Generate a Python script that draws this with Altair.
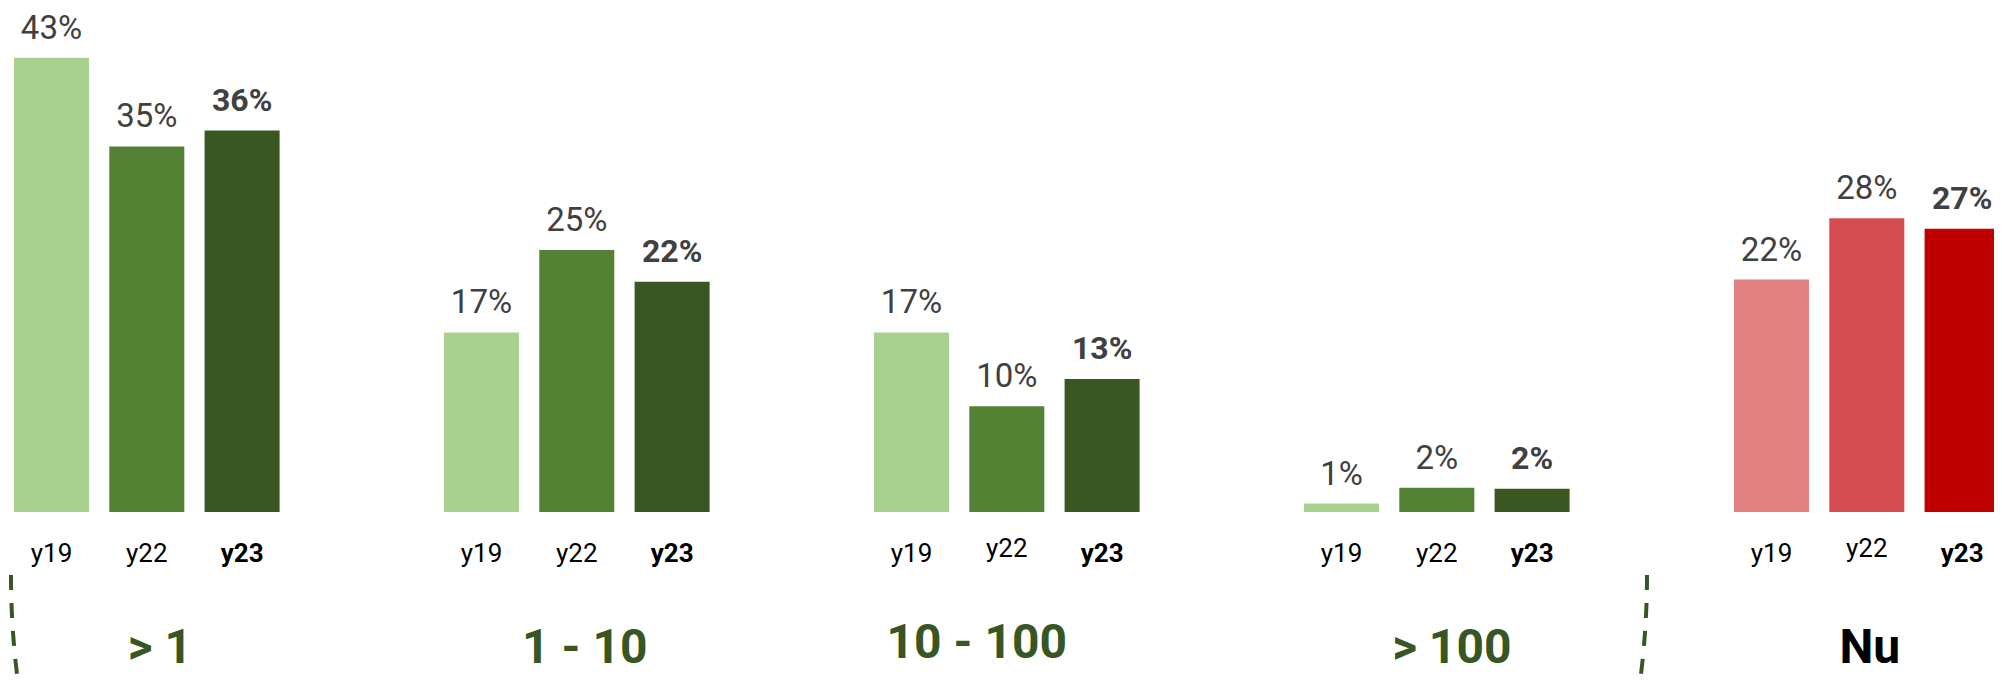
import altair as alt
import pandas as pd

# ---------------- data ----------------
GROUPS = ["> 1", "1 - 10", "10 - 100", "> 100", "Nu"]
YEARS = ["y19", "y22", "y23"]
V_Y19 = [43.0, 17.0, 17.0, 0.8, 22.0]
V_Y22 = [34.6, 24.8, 10.0, 2.3, 27.8]
V_Y23 = [36.1, 21.8, 12.6, 2.2, 26.8]

# ---------------- style / layout ----------------
FONT = "Roboto"
GREEN_TXT = "#375623"
SHADE_DOMAIN = ["green-y19", "green-y22", "green-y23", "red-y19", "red-y22", "red-y23"]
SHADE_RANGE = ["#A9D18E", "#548235", "#385723", "#E08080", "#D44C4F", "#C00000"]

W, H = 1986, 672
BASE_Y = 504          # plot y of 0 %
TOP_Y = 49.7          # plot y of 43 %
X0 = -76.2            # start of first group band
GROUP_STEP = 430
# nudges for the group titles (dx, dy)
GROUP_NUDGE = [(13, 0), (8, 0), (-30, -5), (15, 0), (3, 0)]
RAISED = ["10 - 100", "Nu"]   # groups whose y22 tick label sits a little higher

rows = []
for g, grp in enumerate(GROUPS):
    for yr, vals in zip(YEARS, [V_Y19, V_Y22, V_Y23]):
        kind = "red" if grp == "Nu" else "green"
        rows.append({"group": grp, "year": yr, "value": vals[g], "shade": f"{kind}-{yr}"})
df = pd.DataFrame(rows)

x_scale = alt.Scale(domain=GROUPS, range=[X0, X0 + 5 * GROUP_STEP], paddingInner=0, paddingOuter=0)
xo_scale = alt.Scale(domain=YEARS, paddingInner=0.213, paddingOuter=0.8625)
y_scale = alt.Scale(domain=[0, 43], range=[BASE_Y, TOP_Y], nice=False, zero=True)

X = alt.X("group:N", scale=x_scale, axis=None)
XO = alt.XOffset("year:N", scale=xo_scale)
Y = alt.Y("value:Q", scale=y_scale, axis=None)

base = alt.Chart(df)

bars = base.mark_bar().encode(
    x=X, xOffset=XO, y=Y,
    color=alt.Color("shade:N", scale=alt.Scale(domain=SHADE_DOMAIN, range=SHADE_RANGE), legend=None),
)

lab = base.transform_calculate(label="round(datum.value) + '%'")
val_reg = lab.transform_filter("datum.year != 'y23'").mark_text(
    font=FONT, fontSize=33, color="#404040", baseline="alphabetic", dy=-19
).encode(x=X, xOffset=XO, y=Y, text="label:N")
val_bold = lab.transform_filter("datum.year == 'y23'").mark_text(
    font=FONT, fontSize=32, fontWeight="bold", color="#404040", baseline="alphabetic", dy=-20
).encode(x=X, xOffset=XO, y=Y, text="label:N")

raised_test = "(datum.year == 'y22' && indexof(" + str(RAISED) + ", datum.group) >= 0)"
cat_reg = base.transform_filter(f"datum.year != 'y23' && !{raised_test}").mark_text(
    font=FONT, fontSize=26, color="#000000", baseline="alphabetic"
).encode(x=X, xOffset=XO, y=alt.value(554), text="year:N")
cat_raised = base.transform_filter(raised_test).mark_text(
    font=FONT, fontSize=26, color="#000000", baseline="alphabetic", dy=-5
).encode(x=X, xOffset=XO, y=alt.value(554), text="year:N")
cat_bold = base.transform_filter("datum.year == 'y23'").mark_text(
    font=FONT, fontSize=26, fontWeight="bold", color="#000000", baseline="alphabetic"
).encode(x=X, xOffset=XO, y=alt.value(554), text="year:N")

gdf = pd.DataFrame({"group": GROUPS})
group_layers = []
for grp, (dx, dy) in zip(GROUPS, GROUP_NUDGE):
    col = "#000000" if grp == "Nu" else GREEN_TXT
    group_layers.append(
        alt.Chart(gdf).transform_filter(alt.datum.group == grp).mark_text(
            font=FONT, fontSize=48, fontWeight="bold", color=col, baseline="alphabetic", dx=dx, dy=dy
        ).encode(x=X, y=alt.value(655), text="group:N")
    )

# decorative dashed bracket arcs (pixel space)
R = 822
CY = 567
arc_src = alt.Chart(alt.sequence(0, 161, 1, as_="i")).transform_calculate(a="datum.i / 1000")
arc_left = arc_src.transform_calculate(
    px=f"3 + {R} * (1 - cos(datum.a))", py=f"{CY} + {R} * sin(datum.a)"
).mark_line(color=GREEN_TXT, strokeWidth=4, strokeDash=[15, 13], strokeCap="butt").encode(
    x=alt.X("px:Q", scale=None, axis=None), y=alt.Y("py:Q", scale=None, axis=None), order="i:Q"
)
arc_right = arc_src.transform_calculate(
    px=f"1639 - {R} * (1 - cos(datum.a))", py=f"{CY} + {R} * sin(datum.a)"
).mark_line(color=GREEN_TXT, strokeWidth=4, strokeDash=[15, 13], strokeCap="butt").encode(
    x=alt.X("px:Q", scale=None, axis=None), y=alt.Y("py:Q", scale=None, axis=None), order="i:Q"
)

chart = alt.layer(
    bars, val_reg, val_bold, cat_reg, cat_raised, cat_bold, *group_layers, arc_left, arc_right
).resolve_scale(x="independent", y="independent").properties(
    width=W, height=H, padding=0, autosize=alt.AutoSizeParams(type="none"), background="white"
).configure_view(stroke=None)

chart.save("out.html", embed_options={"renderer": "svg", "actions": False})
